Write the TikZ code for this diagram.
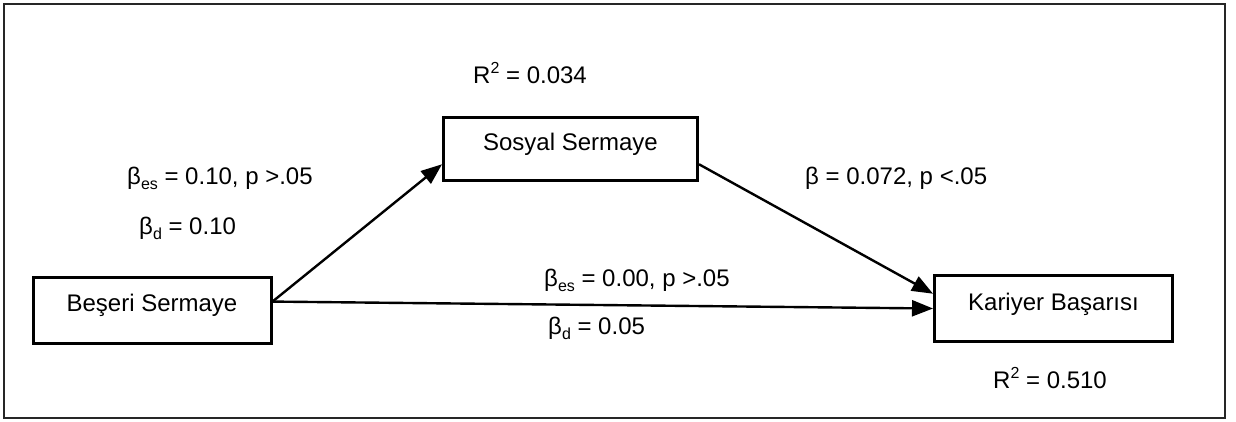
\documentclass[tikz,border=0pt]{standalone}
\usepackage{fontspec}
\setmainfont{Liberation Sans}
\usetikzlibrary{arrows.meta}
\newcommand\sbs[1]{\raisebox{-0.2em}{\fontsize{16}{16}\selectfont #1}}
\newcommand\sps[1]{\raisebox{0.42em}{\fontsize{16}{16}\selectfont #1}}
\begin{document}
\begin{tikzpicture}[x=1pt,y=-1pt,
  every node/.style={font=\fontsize{24}{28}\selectfont},
  varbox/.style={draw,line width=3pt,minimum width=238pt,minimum height=66pt,inner sep=0pt,text height=17pt,text depth=14pt},
  path/.style={line width=2.4pt,-{Triangle[length=21pt,width=16pt]}},
  lbl/.style={anchor=west,inner sep=0pt}]
\useasboundingbox (0,0) rectangle (1236,421);
\draw[line width=1.5pt,black!85] (4,4) rectangle (1225,418);
\node[varbox,minimum width=254pt,minimum height=63pt] (S) at (570.5,148.5) {Sosyal Sermaye};
\node[varbox] (B) at (152,310) {Beşeri Sermaye};
\node[varbox] (K) at (1053.5,308.5) {Kariyer Başarısı};
\draw[path] (B.4.5) -- (S.187.3);
\draw[path] (S.-7.3) -- (K.173.5);
\draw[path] (B.4.5) -- (K.180.8);
\node[lbl] (r1) at (473,73) {R\sps{2} = 0.034};
\node[lbl] (a1) at (127,178) {β\sbs{es} = 0.10, p >.05};
\node[lbl] (a2) at (139,228) {β\sbs{d} = 0.10};
\node[lbl] (b1) at (805,178) {β = 0.072, p <.05};
\node[lbl] (c1) at (544,280) {β\sbs{es} = 0.00, p >.05};
\node[lbl] (c2) at (548,328) {β\sbs{d} = 0.05};
\node[lbl] (r2) at (993,378) {R\sps{2} = 0.510};
\end{tikzpicture}
\end{document}
